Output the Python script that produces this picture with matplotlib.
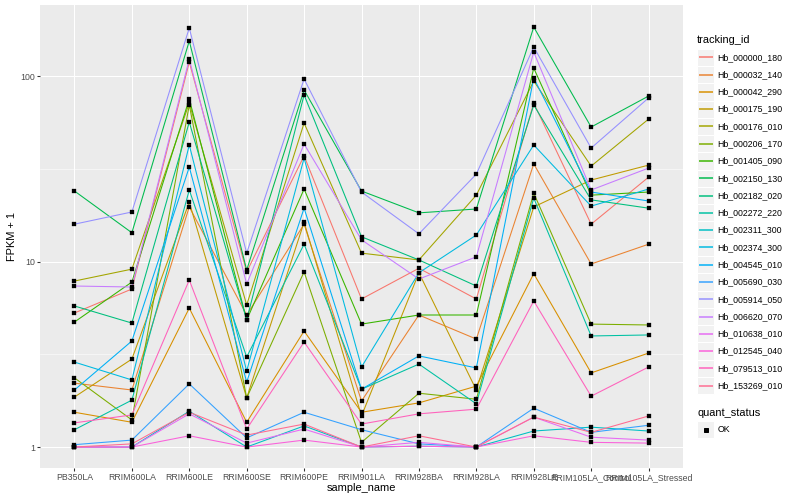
import numpy as np
import matplotlib.pyplot as plt
from matplotlib.patches import Rectangle
from matplotlib.ticker import FixedLocator, NullFormatter

plt.rcParams['font.family'] = ['Liberation Sans', 'DejaVu Sans']

# sample names on the x axis
samples = ['PB350LA', 'RRIM600LA', 'RRIM600LE', 'RRIM600SE', 'RRIM600PE',
           'RRIM901LA', 'RRIM928BA', 'RRIM928LA', 'RRIM928LE',
           'RRIM105LA_Control', 'RRIM105LA_Stressed']

# FPKM + 1 per gene (one value per sample)
hb_000000_180 = [5.28, 7.11, 118.9, 8.8, 37.1, 6.28, 9.2, 6.28, 71.5, 15.9, 28.5]
hb_000032_140 = [2.21, 2.03, 19.7, 5.15, 15.9, 1.77, 5.15, 3.82, 33.6, 9.7, 12.4]
hb_000042_290 = [1.54, 1.36, 5.61, 1.36, 4.22, 1.54, 1.73, 2.13, 8.6, 2.51, 3.21]
hb_000175_190 = [1.86, 2.98, 20.9, 1.84, 16.3, 1.47, 8.7, 2.03, 19.7, 27.5, 33.1]
hb_000176_010 = [7.85, 9.1, 71.5, 5.83, 55.8, 11.1, 10.2, 22.8, 94.0, 32.7, 58.6]
hb_000206_170 = [2.36, 1.40, 69.8, 1.84, 8.8, 1.06, 1.95, 1.81, 23.4, 4.60, 4.55]
hb_001405_090 = [4.72, 7.75, 75.2, 4.84, 24.6, 4.60, 5.15, 5.15, 110.4, 22.8, 23.7]
hb_002150_130 = [24.0, 14.3, 154.5, 9.0, 84.1, 24.0, 18.3, 19.2, 183.7, 53.1, 78.0]
hb_002182_020 = [5.76, 4.66, 56.5, 4.84, 79.1, 13.6, 10.2, 7.38, 69.8, 21.5, 19.4]
hb_002272_220 = [1.24, 1.79, 24.3, 3.06, 12.4, 2.05, 2.80, 1.71, 22.0, 3.97, 4.02]
hb_002311_300 = [1.0, 1.0, 1.56, 1.0, 1.30, 1.0, 1.01, 1.0, 1.22, 1.28, 1.22]
hb_002374_300 = [2.87, 2.30, 42.5, 2.57, 36.1, 2.70, 8.7, 13.9, 42.5, 19.9, 24.6]
hb_004545_010 = [2.03, 3.73, 32.3, 2.24, 19.4, 2.05, 3.10, 2.67, 97.6, 23.7, 21.2]
hb_005690_030 = [1.03, 1.09, 2.19, 1.12, 1.54, 1.24, 1.04, 1.0, 1.62, 1.20, 1.31]
hb_005914_050 = [15.9, 18.5, 181.5, 11.1, 96.4, 23.7, 14.1, 29.6, 143.3, 40.9, 76.2]
hb_006620_070 = [7.38, 7.29, 123.5, 7.56, 43.0, 13.1, 8.05, 10.6, 134.6, 24.3, 31.9]
hb_010638_010 = [1.0, 1.0, 1.51, 1.05, 1.25, 1.0, 1.06, 1.0, 1.45, 1.13, 1.09]
hb_012545_040 = [1.0, 1.0, 1.15, 1.0, 1.09, 1.0, 1.01, 1.0, 1.15, 1.06, 1.05]
hb_079513_010 = [1.35, 1.49, 7.95, 1.25, 3.68, 1.33, 1.51, 1.60, 6.13, 1.88, 2.70]
hb_153269_010 = [1.0, 1.04, 1.54, 1.16, 1.33, 1.0, 1.15, 1.0, 1.45, 1.20, 1.47]

tracking_ids = ['Hb_000000_180', 'Hb_000032_140', 'Hb_000042_290', 'Hb_000175_190',
                'Hb_000176_010', 'Hb_000206_170', 'Hb_001405_090', 'Hb_002150_130',
                'Hb_002182_020', 'Hb_002272_220', 'Hb_002311_300', 'Hb_002374_300',
                'Hb_004545_010', 'Hb_005690_030', 'Hb_005914_050', 'Hb_006620_070',
                'Hb_010638_010', 'Hb_012545_040', 'Hb_079513_010', 'Hb_153269_010']
series = [hb_000000_180, hb_000032_140, hb_000042_290, hb_000175_190,
          hb_000176_010, hb_000206_170, hb_001405_090, hb_002150_130,
          hb_002182_020, hb_002272_220, hb_002311_300, hb_002374_300,
          hb_004545_010, hb_005690_030, hb_005914_050, hb_006620_070,
          hb_010638_010, hb_012545_040, hb_079513_010, hb_153269_010]

# ggplot2 default hue palette for 20 levels
colors = ['#F8766D', '#EA8331', '#D89000', '#C09B00', '#A3A500', '#7CAE00',
          '#39B600', '#00BB4E', '#00BF7D', '#00C1A3', '#00BFC4', '#00BAE0',
          '#00B0F6', '#35A2FF', '#9590FF', '#C77CFF', '#E76BF3', '#FA62DB',
          '#FF62BC', '#FF6C91']

W, H = 800, 500
fig = plt.figure(figsize=(W / 72, H / 72), dpi=72)
ax = fig.add_axes([40 / W, 1 - 468 / H, (683 - 40) / W, (468 - 5) / H])
ax.set_facecolor('#EBEBEB')

x = np.arange(len(samples))
for vals, col in zip(series, colors):
    ax.plot(x, vals, color=col, lw=1.07, zorder=3)
for vals in series:
    ax.plot(x, vals, 's', color='black', ms=3.4, mec='black', mew=0.3, zorder=4)

ax.set_yscale('log')
ax.set_xlim(-0.6, len(samples) - 0.4)
ax.set_ylim(10 ** -0.113, 10 ** 2.383)
ax.set_xticks(x)
ax.set_xticklabels(samples)
ax.yaxis.set_major_locator(FixedLocator([1, 10, 100]))
ax.set_yticklabels(['1', '10', '100'])
ax.yaxis.set_minor_locator(FixedLocator([10 ** 0.5, 10 ** 1.5]))
ax.yaxis.set_minor_formatter(NullFormatter())
ax.tick_params(which='major', length=2.75, width=1.07, color='#333333',
               labelsize=8.8, labelcolor='#4D4D4D', pad=2.2)
ax.tick_params(which='minor', length=0)
ax.grid(which='major', color='white', lw=1.07, zorder=1)
ax.grid(which='minor', axis='y', color='white', lw=0.55, zorder=1)
ax.set_axisbelow(True)
for s in ax.spines.values():
    s.set_visible(False)

fig.text(361 / W, 1 - 488 / H, 'sample_name', ha='center', va='center', size=11)
fig.text(12 / W, 1 - 236.5 / H, 'FPKM + 1', ha='center', va='center', size=11, rotation=90)

# legend drawn in pixel coordinates
lg = fig.add_axes([0, 0, 1, 1], zorder=5)
lg.set_xlim(0, W)
lg.set_ylim(H, 0)
lg.axis('off')
key = 17.28
lg.text(697, 40, 'tracking_id', size=11, va='center', ha='left')
for i, (name, col) in enumerate(zip(tracking_ids, colors)):
    yc = 57.3 + key * i
    lg.add_patch(Rectangle((697, yc - key / 2), key, key, fc='#F2F2F2', ec='white',
                           lw=1, zorder=1))
    lg.plot([698.7, 712.6], [yc, yc], color=col, lw=1.5, zorder=3,
            solid_capstyle='butt')
    lg.text(717.5, yc, name, size=8.8, va='center', ha='left')
lg.text(697, 412.5, 'quant_status', size=11, va='center', ha='left')
lg.add_patch(Rectangle((697, 429.5 - key / 2), key, key, fc='#F2F2F2', ec='white',
                       lw=1, zorder=1))
lg.plot([697 + key / 2], [429.5], 's', color='black', ms=3.4, zorder=3)
lg.text(717.5, 429.5, 'OK', size=8.8, va='center', ha='left')

fig.savefig('out.png', dpi=72)
